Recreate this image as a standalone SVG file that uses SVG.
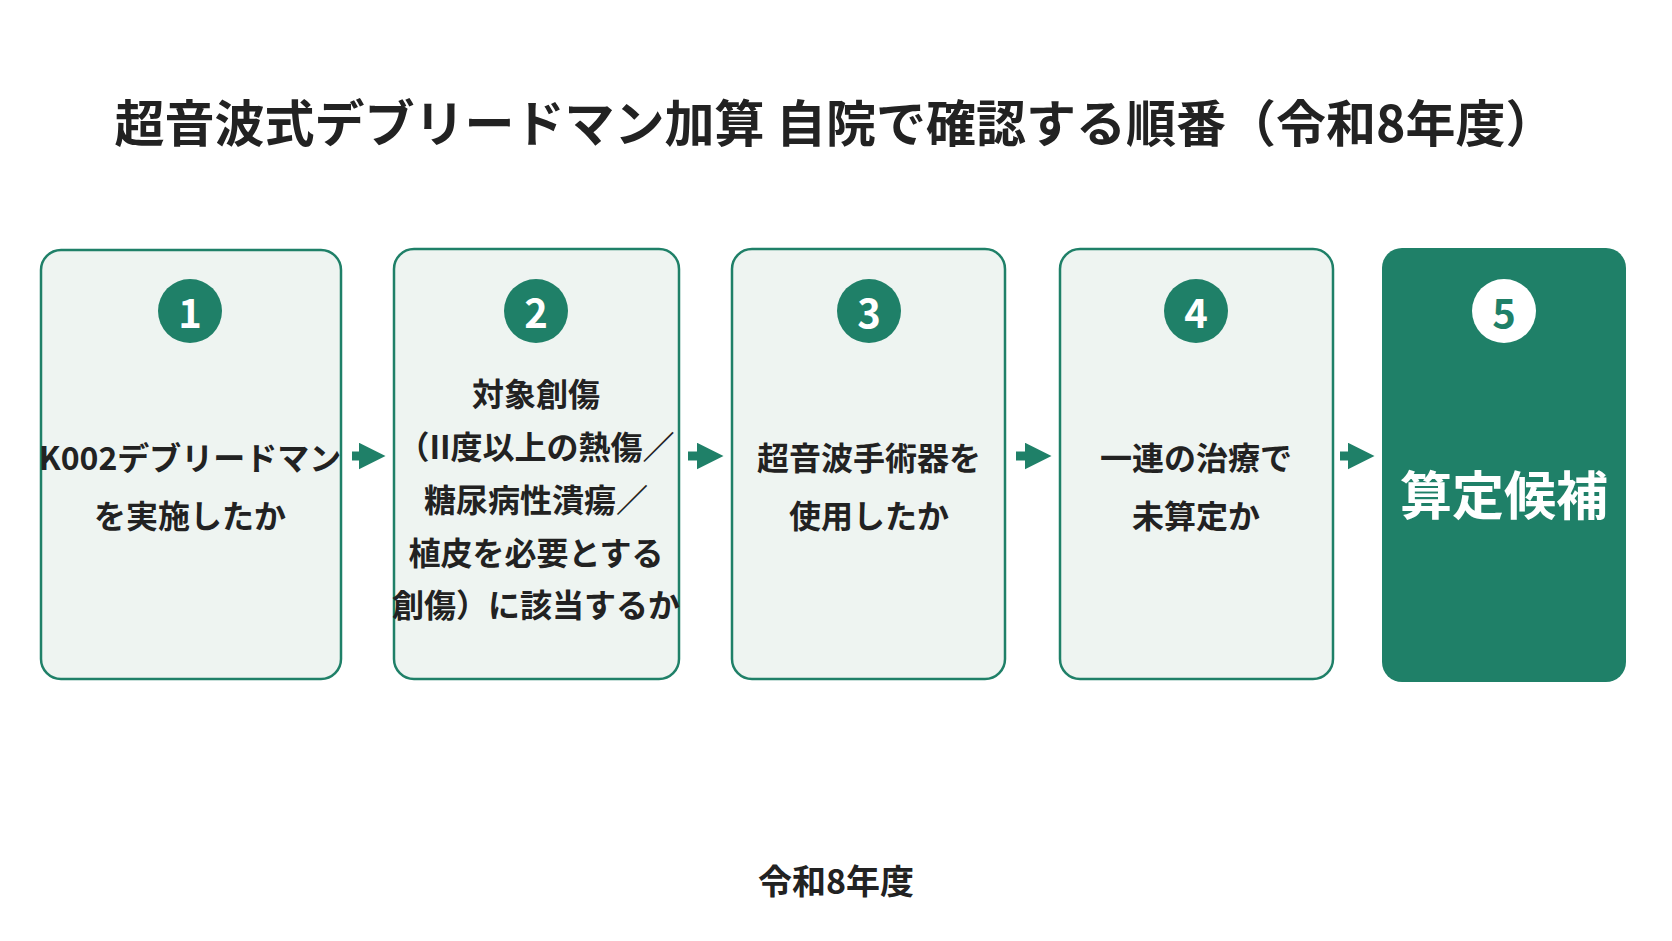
<svg xmlns="http://www.w3.org/2000/svg" width="1672" height="941" viewBox="0 0 1672 941">
<defs>
<style>
text{font-family:"Noto Sans CJK JP","Noto Sans",sans-serif;font-weight:bold;text-anchor:middle;dominant-baseline:central}
.box{fill:#eef4f1;stroke:#1f8068;stroke-width:2.5}
.num{fill:#1f8068}
.nt{fill:#fff;font-size:40px}
.t{fill:#222;font-size:32px}
</style>
<marker id="ah" viewBox="0 0 10 10" refX="5" refY="5" markerWidth="3" markerHeight="3" orient="auto"><path d="M0,0L10,5L0,10z" fill="#1f8068"/></marker>
</defs>
<rect width="1672" height="941" fill="#fff"/>
<text x="835" y="120" style="font-size:50px;fill:#222">超音波式デブリードマン加算 自院で確認する順番（令和8年度）</text>
<g id="connectors" stroke="#1f8068" stroke-width="9" marker-end="url(#ah)">
<line x1="352" y1="456" x2="372" y2="456"/>
<line x1="688" y1="456" x2="710" y2="456"/>
<line x1="1016" y1="456" x2="1038" y2="456"/>
<line x1="1340" y1="456" x2="1361" y2="456"/>
</g>
<g id="n1"><rect class="box" x="41" y="250" width="300" height="429" rx="20"/><circle class="num" cx="190" cy="311" r="32"/><text class="nt" x="190" y="311">1</text>
<text class="t" x="190" y="456">K002デブリードマン</text><text class="t" x="190" y="514">を実施したか</text></g>
<g id="n2"><rect class="box" x="394" y="249" width="285" height="430" rx="20"/><circle class="num" cx="536" cy="311" r="32"/><text class="nt" x="536" y="311">2</text>
<text class="t" x="536" y="392">対象創傷</text><text class="t" x="536" y="445">（II度以上の熱傷／</text><text class="t" x="536" y="498">糖尿病性潰瘍／</text><text class="t" x="536" y="551">植皮を必要とする</text><text class="t" x="536" y="603">創傷）に該当するか</text></g>
<g id="n3"><rect class="box" x="732" y="249" width="273" height="430" rx="20"/><circle class="num" cx="869" cy="311" r="32"/><text class="nt" x="869" y="311">3</text>
<text class="t" x="869" y="456">超音波手術器を</text><text class="t" x="869" y="514">使用したか</text></g>
<g id="n4"><rect class="box" x="1060" y="249" width="273" height="430" rx="20"/><circle class="num" cx="1196" cy="311" r="32"/><text class="nt" x="1196" y="311">4</text>
<text class="t" x="1196" y="456">一連の治療で</text><text class="t" x="1196" y="514">未算定か</text></g>
<g id="n5"><rect x="1382" y="248" width="244" height="434" rx="20" fill="#1f8068"/><circle cx="1504" cy="311" r="32" fill="#fff"/><text x="1504" y="311" style="font-size:40px;fill:#1f8068">5</text>
<text x="1504" y="492" style="font-size:52px;fill:#fff">算定候補</text></g>
<text x="836" y="879" style="font-size:34px;fill:#222">令和8年度</text>
</svg>
